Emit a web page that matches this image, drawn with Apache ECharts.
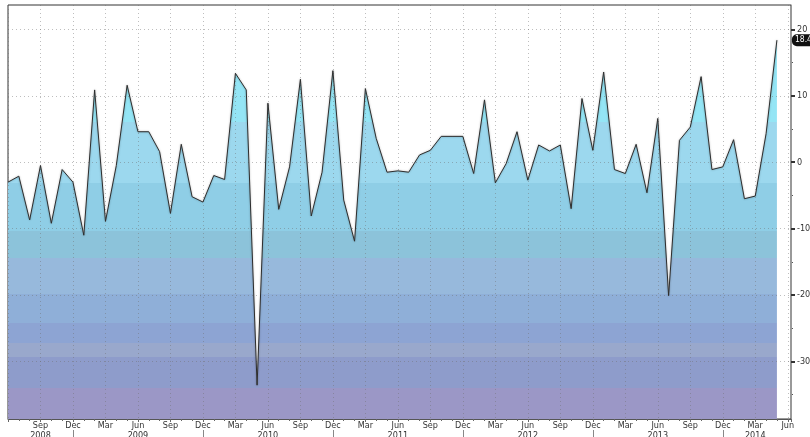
<!DOCTYPE html>
<html>
<head>
<meta charset="utf-8">
<script src="https://cdn.jsdelivr.net/npm/echarts@6/dist/echarts.min.js"></script>
<style>html,body{margin:0;padding:0;background:#fff}#c{width:810px;height:437px}</style>
</head>
<body>
<div id="c"></div>
<script>
// Monthly observations, Jun 2008 .. May 2014
const startYear = 2008, startMonth = 5; // June (0-based month)
const values = [
  -3.0, -2.1, -8.7, -0.5, -9.2, -1.1, -3.0, -11.0, 10.9, -8.9, -0.5, 11.6,
  4.6, 4.6, 1.6, -7.7, 2.7, -5.2, -6.0, -2.0, -2.6, 13.4, 10.9, -33.6,
  8.9, -7.1, -0.7, 12.5, -8.1, -1.5, 13.8, -5.7, -11.9, 11.1, 3.6, -1.5,
  -1.3, -1.5, 1.1, 1.8, 3.9, 3.9, 3.9, -1.7, 9.4, -3.1, -0.2, 4.6,
  -2.7, 2.6, 1.7, 2.6, -7.0, 9.6, 1.8, 13.6, -1.1, -1.7, 2.7, -4.6,
  6.6, -20.1, 3.3, 5.3, 12.9, -1.1, -0.7, 3.4, -5.5, -5.1, 4.3, 18.4
];
const monthNames = ['Jan','Feb','Mar','Apr','May','Jun','Jul','Aug','Sep','Oct','Nov','Dec'];
const yTickLabels = [-30, -20, -10, 0, 10, 20];
const yMinorTicks = [-35, -25, -15, -5, 5, 15];
const yearLabelAt = [3, 12, 24, 36, 48, 60, 69];     // month index where each year label sits
const yearSeparators = [6, 18, 30, 42, 54, 66];
const yMin = -38.7, yMax = 23.7, xMax = 72.3;

// colour bands of the filled area (value thresholds)
const bands = [
  {gte: 6, color: '#94e5f5'},
  {gte: -3.2, lt: 6, color: '#9cd8ee'},
  {gte: -10.3, lt: -3.2, color: '#8fcee6'},
  {gte: -14.5, lt: -10.3, color: '#8cc3da'},
  {gte: -19.8, lt: -14.5, color: '#97b9dc'},
  {gte: -24.3, lt: -19.8, color: '#8fafd8'},
  {gte: -27.3, lt: -24.3, color: '#8da4d3'},
  {gte: -29.4, lt: -27.3, color: '#99a8cc'},
  {gte: -34.1, lt: -29.4, color: '#8e9ccb'},
  {lt: -34.1, color: '#9b97c6'}
];

function monthOf(i){ return (startMonth + i) % 12; }
function yearOf(i){ return startYear + Math.floor((startMonth + i) / 12); }
const pts = values.map((v, i) => [i, v]);

const font = 'DejaVu Sans Condensed, DejaVu Sans, sans-serif';
const gridLine = {show: true, lineStyle: {color: 'rgba(110,110,110,0.45)', type: [1, 3], width: 1}};

const chart = echarts.init(document.getElementById('c'), null, {renderer: 'canvas'});
chart.setOption({
  animation: false,
  backgroundColor: '#ffffff',
  grid: {left: 8, right: 19, top: 5, bottom: 18, show: true, borderColor: '#333', borderWidth: 1,
    backgroundColor: '#fff', containLabel: false, outerBoundsMode: 'none'},
  visualMap: {show: false, type: 'piecewise', seriesIndex: 0, dimension: 1, pieces: bands},
  xAxis: [{
    type: 'value', min: 0, max: xMax, interval: 3, position: 'bottom', z: 5,
    axisLine: {show: true, onZero: false, lineStyle: {color: '#555', width: 1}},
    axisTick: {show: true, length: 3, lineStyle: {color: '#666'}},
    minorTick: {show: true, splitNumber: 3, length: 2, lineStyle: {color: '#666'}},
    splitLine: gridLine,
    axisLabel: {
      fontSize: 9, color: '#333', fontFamily: font, margin: 2, showMinLabel: false, showMaxLabel: true,
      formatter: v => (v > 0 && Number.isInteger(v)) ? monthNames[monthOf(v)] : ''
    }
  }, {
    type: 'value', min: 0, max: xMax, position: 'bottom', offset: 11,
    axisLine: {show: false, onZero: false},
    axisTick: {show: true, customValues: yearSeparators, length: 7, inside: false, lineStyle: {color: '#888'}},
    splitLine: {show: false},
    axisLabel: {customValues: yearLabelAt, fontSize: 9, color: '#333', fontFamily: font, margin: 1,
      formatter: v => String(yearOf(v))}
  }],
  yAxis: [{
    type: 'value', min: yMin, max: yMax, position: 'right', z: 5,
    axisLine: {show: true, onZero: false, lineStyle: {color: '#999'}},
    axisTick: {show: true, customValues: yTickLabels, length: 4, inside: false, lineStyle: {color: '#333', width: 2}},
    splitLine: gridLine,
    axisLabel: {customValues: yTickLabels, fontSize: 9, color: '#333', fontFamily: font, margin: 6,
      formatter: v => (v < 0 ? '-' : '') + Math.abs(v)}
  }, {
    type: 'value', min: yMin, max: yMax, position: 'right',
    axisLine: {show: false, onZero: false},
    axisTick: {show: true, customValues: yMinorTicks, length: 2, lineStyle: {color: '#555'}},
    splitLine: {show: false},
    axisLabel: {show: false}
  }],
  series: [{
    type: 'line', data: pts, xAxisIndex: 0, yAxisIndex: 0, showSymbol: false, z: 1,
    lineStyle: {width: 0},
    areaStyle: {origin: 'start', opacity: 1}
  }, {
    type: 'line', data: pts, xAxisIndex: 0, yAxisIndex: 0, showSymbol: false, z: 6,
    lineStyle: {color: '#2e2e2e', width: 1, shadowBlur: 2, shadowColor: 'rgba(0,0,0,0.35)'},
    markPoint: {
      symbol: 'rect', symbolSize: 0,
      data: [{coord: pts[pts.length - 1], value: values[values.length - 1]}],
      label: {show: true, position: 'right', distance: 15, formatter: p => p.value.toFixed(1),
        backgroundColor: '#111', color: '#fff', fontSize: 8.5, fontFamily: font,
        padding: [2, 2, 1, 3], borderRadius: [5, 0, 0, 5]}
    }
  }]
});
</script>
</body>
</html>
